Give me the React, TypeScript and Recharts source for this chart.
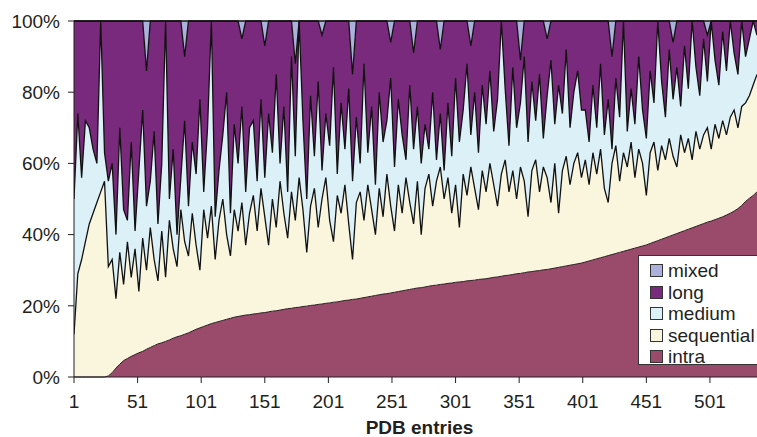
import { Area, AreaChart, Label, XAxis, YAxis } from "recharts";

// PDB entries sampled every 3rd entry (1, 4, 7, ... 538)
const entries = Array.from({ length: 180 }, (_, i) => 1 + 3 * i);

// cumulative upper edge of each band, in percent
const intraTop = [
  0, 0, 0, 0, 0, 0, 0, 0, 0, 0.3,
  1.2, 2.5, 3.6, 4.6, 5.2, 5.8, 6.3, 6.8, 7.2, 7.8,
  8.3, 8.8, 9.3, 9.6, 10, 10.4, 10.9, 11.3, 11.6, 12,
  12.4, 12.9, 13.4, 13.8, 14.2, 14.6, 15, 15.3, 15.6, 15.9,
  16.2, 16.5, 16.8, 17, 17.2, 17.4, 17.5, 17.7, 17.8, 18,
  18.1, 18.3, 18.5, 18.6, 18.8, 19, 19.2, 19.3, 19.5, 19.6,
  19.8, 19.9, 20.1, 20.2, 20.4, 20.5, 20.7, 20.8, 21, 21.1,
  21.3, 21.5, 21.6, 21.8, 21.9, 22.1, 22.3, 22.5, 22.7, 22.9,
  23.1, 23.3, 23.4, 23.6, 23.8, 24, 24.2, 24.4, 24.6, 24.8,
  25, 25.1, 25.3, 25.5, 25.7, 25.8, 26, 26.1, 26.3, 26.4,
  26.6, 26.7, 26.8, 27, 27.1, 27.2, 27.4, 27.5, 27.6, 27.8,
  28, 28.1, 28.3, 28.5, 28.6, 28.8, 29, 29.1, 29.3, 29.5,
  29.6, 29.8, 29.9, 30.1, 30.2, 30.4, 30.6, 30.8, 31, 31.2,
  31.4, 31.6, 31.8, 32, 32.3, 32.6, 32.9, 33.2, 33.5, 33.8,
  34.1, 34.4, 34.7, 35, 35.3, 35.6, 35.9, 36.2, 36.5, 36.8,
  37.1, 37.5, 37.9, 38.3, 38.7, 39.1, 39.5, 39.9, 40.3, 40.7,
  41.1, 41.5, 41.9, 42.3, 42.7, 43.1, 43.5, 43.8, 44.2, 44.6,
  45, 45.5, 46, 46.6, 47.3, 48.2, 49.3, 50.2, 51, 52,
];

const sequentialTop = [
  12, 29, 33, 38, 43, 46, 49, 52, 55, 31,
  33, 22, 35, 26, 38, 28, 36, 24, 39, 30,
  42, 33, 27, 41, 28, 44, 36, 31, 47, 38,
  34, 46, 37, 30, 47, 39, 48, 33, 44, 50,
  40, 34, 47, 41, 49, 37, 46, 51, 41, 53,
  45, 37, 50, 42, 55, 46, 39, 52, 44, 56,
  47, 35, 48, 53, 42, 50, 56, 44, 38, 51,
  46, 54, 43, 33, 49, 52, 44, 54, 47, 40,
  53, 45, 57, 48, 41, 54, 46, 56, 49, 43,
  55, 40, 53, 57, 48, 55, 59, 50, 56, 46,
  54, 42, 57, 51, 59, 53, 47, 58, 52, 60,
  54, 48, 57, 61, 52, 58, 50, 59, 55, 45,
  58, 61, 52, 59, 56, 49, 60, 46, 58, 62,
  54, 60, 63, 56, 61, 54, 63, 57, 64, 53,
  49, 60, 65, 55, 63, 59, 66, 56, 64, 60,
  51, 63, 66, 58, 65, 61, 67, 62, 59, 68,
  63, 67, 61, 69, 64, 68, 70, 64, 71, 67,
  72, 68, 73, 75, 70, 76, 77, 79, 82, 85,
];

const mediumTop = [
  50, 74, 56, 72, 70, 64, 60, 100, 63, 55,
  60, 40, 70, 47, 44, 66, 41, 58, 75, 48,
  55, 69, 43, 60, 100, 50, 64, 40, 56, 72,
  48, 66, 57, 78, 52, 70, 100, 45, 58, 68,
  80, 46, 71, 60, 76, 52, 70, 72, 55, 78,
  56, 74, 63, 85, 60, 76, 52, 90, 62, 100,
  72, 50, 79, 62, 83, 58, 74, 65, 87, 57,
  77, 64, 81, 55, 73, 60, 88, 63, 76, 54,
  80, 66, 72, 84, 59, 78, 68, 61, 82, 64,
  76, 60, 71, 64, 80, 61, 74, 58, 77, 62,
  84, 66, 75, 88, 68, 80, 63, 82, 71, 86,
  69, 78, 100, 81, 65, 87, 70, 77, 90, 66,
  83, 72, 85, 67, 79, 89, 71, 82, 74, 92,
  70, 80, 86, 75, 75, 66, 82, 70, 88, 68,
  78, 64, 84, 73, 100, 69, 81, 71, 90, 75,
  67, 86, 77, 100, 83, 73, 92, 78, 87, 76,
  93, 81, 100, 87, 79, 95, 83, 100, 89, 82,
  97, 86, 100, 91, 85, 100, 90, 95, 100, 96,
];

const longTop = [
  100, 100, 100, 100, 100, 100, 100, 100, 100, 100,
  100, 100, 100, 100, 100, 100, 100, 100, 100, 86,
  100, 100, 100, 100, 100, 100, 100, 100, 100, 90,
  100, 100, 100, 100, 100, 100, 100, 100, 100, 100,
  100, 100, 100, 100, 95, 100, 100, 100, 100, 100,
  93, 100, 100, 100, 100, 100, 100, 100, 88, 100,
  100, 100, 100, 100, 100, 96, 100, 100, 100, 100,
  100, 100, 100, 85, 100, 100, 100, 100, 100, 100,
  100, 100, 100, 94, 100, 100, 100, 100, 100, 91,
  100, 100, 100, 100, 100, 100, 92, 100, 100, 100,
  100, 100, 100, 100, 93, 100, 100, 100, 100, 100,
  100, 100, 100, 100, 100, 100, 100, 89, 100, 100,
  100, 100, 100, 100, 95, 100, 100, 100, 100, 100,
  100, 100, 100, 100, 100, 100, 100, 100, 100, 100,
  100, 90, 100, 100, 100, 100, 100, 100, 100, 100,
  100, 100, 100, 100, 100, 100, 100, 94, 100, 100,
  100, 100, 100, 100, 100, 100, 96, 100, 100, 100,
  100, 100, 100, 100, 100, 100, 100, 100, 100, 100,
];

const xTicks = [1, 51, 101, 151, 201, 251, 301, 351, 401, 451, 501];
const yTicks = [0, 20, 40, 60, 80, 100];

const colors = {
  mixed: "#abb0dc",
  long: "#7a2a7c",
  medium: "#dcf0f8",
  sequential: "#faf6de",
  intra: "#9a4a6b",
};
const seriesOrder = ["intra", "sequential", "medium", "long", "mixed"] as const;
const legendOrder = ["mixed", "long", "medium", "sequential", "intra"] as const;

const data = entries.map((entry, i) => ({
  entry,
  intra: intraTop[i],
  sequential: sequentialTop[i] - intraTop[i],
  medium: mediumTop[i] - sequentialTop[i],
  long: longTop[i] - mediumTop[i],
  mixed: 100 - longTop[i],
}));

const font = "'Liberation Sans', Arial, Helvetica, sans-serif";
const ink = "#231f20";
const line = "#111111";

export default function App() {
  return (
    <div style={{ position: "absolute", left: 0, top: 0, width: 757, height: 437, fontFamily: font }}>
      <AreaChart
        width={757}
        height={437}
        data={data}
        margin={{ top: 21, right: 0, bottom: 0, left: 0 }}
      >
        <XAxis
          dataKey="entry"
          type="number"
          domain={[1, 538]}
          ticks={xTicks}
          interval={0}
          allowDataOverflow
          height={60}
          tickSize={6}
          tickMargin={12}
          stroke={ink}
          tick={{ fontSize: 19, fill: ink, fontFamily: font }}
        >
          <Label
            value="PDB entries"
            position="insideBottom"
            offset={3}
            dx={4}
            style={{ fontSize: 19, fontWeight: "bold", fill: ink, fontFamily: font }}
          />
        </XAxis>
        <YAxis
          type="number"
          domain={[0, 100]}
          ticks={yTicks}
          interval={0}
          width={74}
          tickSize={6}
          tickMargin={8}
          stroke={ink}
          tickFormatter={(v: number) => `${v}%`}
          tick={{ fontSize: 19, fill: ink, fontFamily: font }}
        />
        {/* filled bands */}
        {seriesOrder.map((key) => (
          <Area
            key={`fill-${key}`}
            type="linear"
            dataKey={key}
            stackId="fill"
            fill={colors[key]}
            fillOpacity={1}
            stroke="none"
            dot={false}
            activeDot={false}
            legendType="none"
            isAnimationActive={false}
          />
        ))}
        {/* outlines on top, so the next band doesn't cover them */}
        {seriesOrder.map((key) => (
          <Area
            key={`line-${key}`}
            type="linear"
            dataKey={key}
            stackId="line"
            fill="none"
            fillOpacity={0}
            stroke={key === "intra" ? "#2a1a22" : line}
            strokeWidth={key === "intra" ? 1 : 1.3}
            dot={false}
            activeDot={false}
            legendType="none"
            isAnimationActive={false}
          />
        ))}
      </AreaChart>
      <div
        style={{
          position: "absolute",
          left: 638,
          top: 255,
          width: 130,
          height: 110,
          boxSizing: "border-box",
          background: "#fff",
          border: "1px solid #333",
          padding: "4px 0 0 11px",
        }}
      >
        {legendOrder.map((key) => (
          <div key={key} style={{ display: "flex", alignItems: "center", height: 21.5, fontSize: 19, color: ink, lineHeight: "21px" }}>
            <span
              style={{
                display: "inline-block",
                width: 11,
                height: 11,
                background: colors[key],
                border: "1px solid #333",
                marginRight: 5,
              }}
            />
            {key}
          </div>
        ))}
      </div>
    </div>
  );
}
